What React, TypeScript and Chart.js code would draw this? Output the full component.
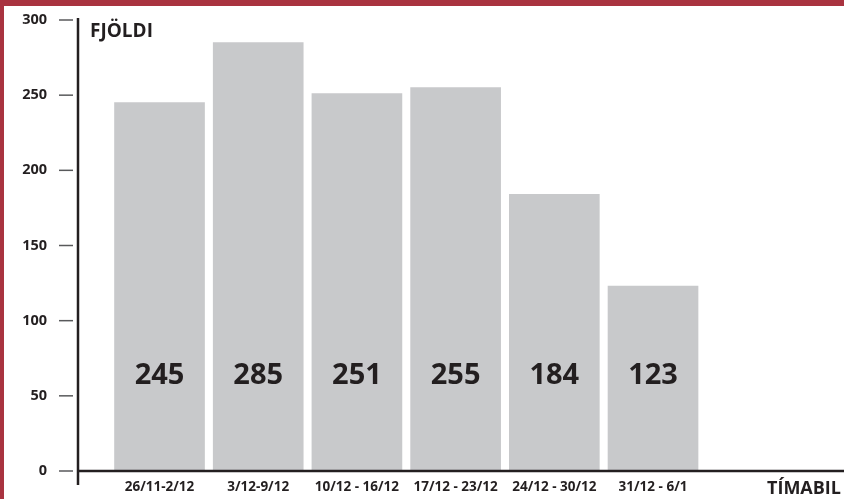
import React, { useEffect, useRef } from "react";
import { Chart, registerables } from "chart.js";

Chart.register(...registerables);

const categories = ["26/11-2/12", "3/12-9/12", "10/12 - 16/12", "17/12 - 23/12", "24/12 - 30/12", "31/12 - 6/1"];
const values = [245, 285, 251, 255, 184, 123];
const yTicks = [0, 50, 100, 150, 200, 250, 300];
const yTitle = "FJÖLDI";
const xTitle = "TÍMABIL";

const RED = "#a93340";
const INK = "#231f20";
const BAR = "#c8c9cb";
const FONT = "'Open Sans', 'Noto Sans', sans-serif";

export default function App() {
  const ref = useRef<HTMLCanvasElement | null>(null);

  useEffect(() => {
    document.body.style.margin = "0";
    const canvas = ref.current!;
    const decor = {
      id: "decor",
      beforeDraw(chart: any) {
        const { ctx, width, height } = chart;
        ctx.save();
        ctx.fillStyle = "#ffffff";
        ctx.fillRect(0, 0, width, height);
        ctx.fillStyle = RED;
        ctx.fillRect(0, 0, width, 6);
        ctx.fillRect(0, 0, 4, height);
        ctx.restore();
      },
      afterDraw(chart: any) {
        const { ctx, chartArea } = chart;
        const y = chart.scales.y;
        ctx.save();
        // tick marks
        ctx.strokeStyle = "#58595b";
        ctx.lineWidth = 1.5;
        y.ticks.forEach((t: any) => {
          const py = y.getPixelForValue(t.value);
          ctx.beginPath();
          ctx.moveTo(chartArea.left - 19, py);
          ctx.lineTo(chartArea.left - 5, py);
          ctx.stroke();
        });
        // axes
        ctx.strokeStyle = INK;
        ctx.lineWidth = 2.5;
        ctx.beginPath();
        ctx.moveTo(chartArea.left, chartArea.top - 2);
        ctx.lineTo(chartArea.left, chartArea.bottom + 14);
        ctx.stroke();
        ctx.beginPath();
        ctx.moveTo(chartArea.left, chartArea.bottom);
        ctx.lineTo(chartArea.right, chartArea.bottom);
        ctx.stroke();
        // value labels
        ctx.fillStyle = INK;
        ctx.font = `bold 29px ${FONT}`;
        ctx.textAlign = "center";
        ctx.textBaseline = "alphabetic";
        const meta = chart.getDatasetMeta(0);
        meta.data.forEach((bar: any, i: number) => {
          ctx.fillText(String(values[i]), bar.x, y.getPixelForValue(58));
        });
        // titles
        ctx.font = `bold 19px ${FONT}`;
        ctx.textAlign = "left";
        ctx.fillText(yTitle, chartArea.left + 12, chartArea.top + 17);
        ctx.font = `bold 18px ${FONT}`;
        ctx.textAlign = "right";
        ctx.fillText(xTitle, chartArea.right - 3, chartArea.bottom + 23);
        ctx.restore();
      },
    };

    const chart = new Chart(canvas, {
      type: "bar",
      data: {
        datasets: [
          {
            data: values.map((v, i) => ({ x: i, y: v })),
            backgroundColor: BAR,
            borderWidth: 0,
            barThickness: 90,
          },
        ],
      },
      options: {
        responsive: false,
        animation: false,
        events: [],
        layout: { padding: { top: 20, right: 0, bottom: 0, left: 0 } },
        plugins: { legend: { display: false }, tooltip: { enabled: false } },
        scales: {
          x: {
            type: "linear",
            offset: false,
            min: -0.826,
            max: 6.935,
            grid: { display: false, drawTicks: false, offset: false },
            border: { display: false },
            afterBuildTicks(scale: any) {
              scale.ticks = categories.map((_, i) => ({ value: i }));
            },
            afterFit(scale: any) {
              scale.height = 28;
            },
            ticks: {
              autoSkip: false,
              maxRotation: 0,
              padding: 8,
              color: INK,
              font: { family: FONT, weight: "bold", size: 13.5 },
              callback: (v: any) => categories[v as number] ?? "",
            },
          },
          y: {
            min: 0,
            max: 300,
            grid: {
              display: true,
              drawOnChartArea: false,
              drawTicks: true,
              tickLength: 31,
              tickColor: "rgba(0,0,0,0)",
            },
            border: { display: false },
            afterBuildTicks(scale: any) {
              scale.ticks = yTicks.map((v) => ({ value: v }));
            },
            afterFit(scale: any) {
              scale.width = 78;
            },
            ticks: {
              padding: 0,
              color: INK,
              font: { family: FONT, weight: "bold", size: 14.5 },
            },
          },
        },
      },
      plugins: [decor],
    } as any);
    return () => chart.destroy();
  }, []);

  return <canvas ref={ref} width={844} height={499} style={{ display: "block" }} />;
}
